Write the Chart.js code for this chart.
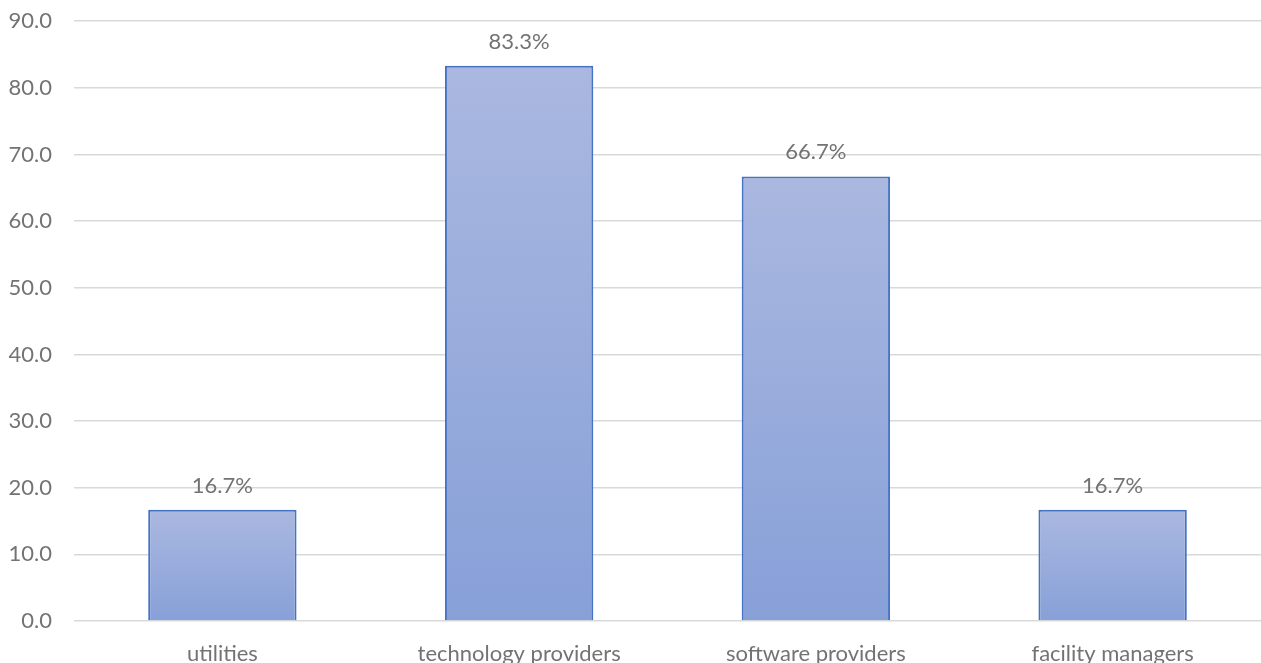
<!DOCTYPE html>
<html>
<head>
<meta charset="utf-8">
<script src="https://cdn.jsdelivr.net/npm/chart.js@4/dist/chart.umd.min.js"></script>
<style>
  html, body { margin: 0; padding: 0; background: #ffffff; overflow: hidden; }
  #wrap { position: relative; top: -14px; width: 1261px; height: 682px; }
</style>
</head>
<body>
<div id="wrap"><canvas id="chart"></canvas></div>
<script>
// Share of respondents per stakeholder group (percent)
const categories = ['utilities', 'technology providers', 'software providers', 'facility managers'];
const shares = [16.7, 83.3, 66.7, 16.7];
const yTicks = [0, 10, 20, 30, 40, 50, 60, 70, 80, 90];

const TEXT = '#737373';
const FONT = 'Lato, "Open Sans", sans-serif';

// Vertical gradient for each bar, from its top down to the baseline
function barFill(ctx) {
  const chart = ctx.chart;
  const y = chart.scales && chart.scales.y;
  if (!chart.chartArea || !y || ctx.type !== 'data') return '#98ABDC';
  const top = y.getPixelForValue(ctx.raw);
  const bottom = y.getPixelForValue(0);
  const g = chart.ctx.createLinearGradient(0, top, 0, bottom);
  g.addColorStop(0, '#AAB8E0');
  g.addColorStop(1, '#87A0D8');
  return g;
}

// Value labels above the bars
const valueLabels = {
  id: 'valueLabels',
  afterDatasetsDraw(chart) {
    const c = chart.ctx;
    c.save();
    c.font = '22px ' + FONT;
    c.fillStyle = TEXT;
    c.textAlign = 'center';
    c.textBaseline = 'alphabetic';
    chart.getDatasetMeta(0).data.forEach((bar, i) => {
      c.fillText(shares[i].toFixed(1) + '%', bar.x, bar.y - 17);
    });
    c.restore();
  }
};

new Chart(document.getElementById('chart'), {
  type: 'bar',
  data: {
    labels: categories,
    datasets: [{
      data: shares,
      backgroundColor: barFill,
      borderColor: '#4472C4',
      borderWidth: 2,
      borderSkipped: 'start',
      categoryPercentage: 1.0,
      barPercentage: 0.5
    }]
  },
  options: {
    responsive: true,
    maintainAspectRatio: false,
    animation: false,
    layout: { padding: { left: 8, right: 0, top: 8, bottom: 0 } },
    plugins: { legend: { display: false }, tooltip: { enabled: false } },
    scales: {
      x: {
        grid: { display: false, drawTicks: false },
        border: { display: false },
        ticks: { color: TEXT, font: { family: FONT, size: 22 }, padding: 20, maxRotation: 0 },
        afterFit(axis) { axis.height = 47; }
      },
      y: {
        min: 0,
        max: 90,
        afterBuildTicks(axis) { axis.ticks = yTicks.map(v => ({ value: v })); },
        grid: { color: '#D9D9D9', lineWidth: 1.5, drawTicks: false },
        border: { display: false },
        ticks: {
          color: TEXT,
          font: { family: FONT, size: 22 },
          padding: 22,
          callback: v => Number(v).toFixed(1)
        },
        afterFit(axis) { axis.width = 66; }
      }
    }
  },
  plugins: [valueLabels]
});
</script>
</body>
</html>
